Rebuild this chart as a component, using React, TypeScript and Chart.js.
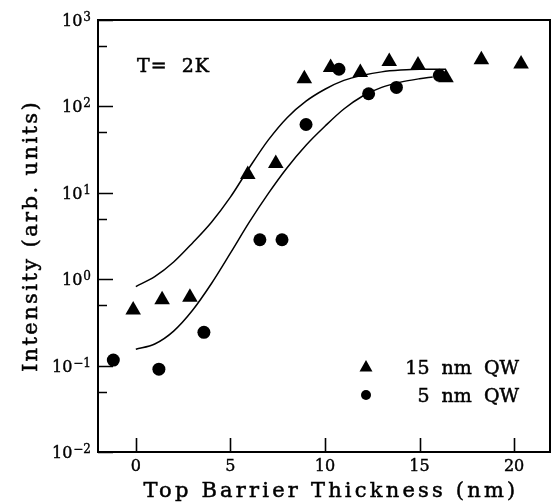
import React, { useEffect, useRef } from "react";
import { Chart, registerables } from "chart.js";

Chart.register(...registerables);

// 15 nm QW (triangles)
const tri15X = [-0.14, 1.39, 2.86, 5.92, 7.4, 8.91, 10.3, 11.87, 13.4, 14.92, 16.4, 18.27, 20.37];
const tri15Y = [0.44, 0.58, 0.62, 16.3, 21.9, 209, 282, 246, 331, 302, 214, 347, 309];

// 5 nm QW (circles)
const circ5X = [-1.19, 1.22, 3.6, 6.56, 7.73, 9.0, 10.74, 12.31, 13.78, 16.05];
const circ5Y = [0.116, 0.091, 0.243, 2.86, 2.86, 61.7, 269, 140, 166, 229];

// fitted curve for 15 nm QW
const fitUpperX = [0, 1, 2, 3, 4, 5, 6, 7, 8, 9, 10, 11, 12, 13, 14, 15, 16.4];
const fitUpperY = [0.822, 1.07, 1.58, 2.63, 4.57, 8.91, 19.5, 40.7, 74.1, 115, 158, 200, 229, 251, 263, 269, 269];

// fitted curve for 5 nm QW
const fitLowerX = [0, 1, 2, 3, 4, 5, 6, 7, 8, 9, 10, 11, 12, 13, 14, 15, 15.7];
const fitLowerY = [0.155, 0.178, 0.251, 0.437, 0.891, 2.0, 4.57, 9.77, 19.5, 35.5, 58.9, 93.3, 132, 166, 191, 209, 219];

const xTicks = [0, 5, 10, 15, 20];
const xTickLabels = ["0", "5", "10", "15", "20"];
const yMajor = [0.01, 0.1, 1, 10, 100, 1000];
const yMinor = [0.05, 0.5, 5, 50, 500];
const yTickExponents = ["\u22122", "\u22121", "0", "1", "2", "3"];

const xTitle = "Top Barrier Thickness (nm)";
const yTitle = "Intensity (arb. units)";
const tempLabel = "T=  2K";
const legendLabels = ["15  nm  QW", "5  nm  QW"];

const FONT = '"DejaVu Serif", serif';

function boldText(ctx: CanvasRenderingContext2D, s: string, x: number, y: number, w = 0.5) {
  ctx.fillText(s, x, y);
  ctx.lineWidth = w;
  ctx.strokeText(s, x, y);
}

export default function App() {
  const ref = useRef<HTMLCanvasElement>(null);

  useEffect(() => {
    const decor = {
      id: "decor",
      afterDraw(chart: any) {
        const ctx = chart.ctx as CanvasRenderingContext2D;
        const { left, right, top, bottom } = chart.chartArea;
        const xs = chart.scales.x;
        const ys = chart.scales.y;
        ctx.save();
        ctx.strokeStyle = "#000";
        ctx.fillStyle = "#000";
        ctx.lineWidth = 2;
        ctx.strokeRect(left, top, right - left, bottom - top);
        ctx.lineWidth = 1.6;
        ctx.beginPath();
        xTicks.forEach((v) => {
          const px = Math.round(xs.getPixelForValue(v)) + 0.5;
          ctx.moveTo(px, bottom);
          ctx.lineTo(px, bottom - 14);
        });
        yMajor.forEach((v) => {
          const py = Math.round(ys.getPixelForValue(v)) + 0.5;
          ctx.moveTo(left, py);
          ctx.lineTo(left + 15, py);
        });
        yMinor.forEach((v) => {
          const py = Math.round(ys.getPixelForValue(v)) + 0.5;
          ctx.moveTo(left, py);
          ctx.lineTo(left + 9, py);
        });
        ctx.stroke();

        // x tick labels
        ctx.font = `16px ${FONT}`;
        ctx.textAlign = "center";
        ctx.textBaseline = "alphabetic";
        xTicks.forEach((v, i) => {
          boldText(ctx, xTickLabels[i], xs.getPixelForValue(v), bottom + 19, 0.4);
        });

        // y tick labels: 10 with superscript exponent
        yMajor.forEach((v, i) => {
          const py = ys.getPixelForValue(v);
          ctx.font = `12px ${FONT}`;
          ctx.textAlign = "right";
          const supW = ctx.measureText(yTickExponents[i]).width;
          boldText(ctx, yTickExponents[i], 91, py + 1, 0.35);
          ctx.font = `16px ${FONT}`;
          boldText(ctx, "10", 91 - supW - 1, py + 6, 0.4);
        });

        // temperature label
        (ctx as any).letterSpacing = "1px";
        ctx.font = `19px ${FONT}`;
        ctx.textAlign = "left";
        boldText(ctx, tempLabel, 137, 72);

        // legend
        (ctx as any).letterSpacing = "0px";
        ctx.font = `19px ${FONT}`;
        ctx.textAlign = "right";
        boldText(ctx, legendLabels[0], 519, 374);
        boldText(ctx, legendLabels[1], 519, 402);
        ctx.beginPath();
        ctx.moveTo(366, 360);
        ctx.lineTo(372.5, 371.5);
        ctx.lineTo(359.5, 371.5);
        ctx.closePath();
        ctx.fill();
        ctx.beginPath();
        ctx.arc(366, 395, 5, 0, Math.PI * 2);
        ctx.fill();

        // axis titles
        (ctx as any).letterSpacing = "3.2px";
        ctx.font = `21px ${FONT}`;
        ctx.textAlign = "center";
        boldText(ctx, xTitle, 331, 497);
        ctx.save();
        ctx.translate(37, 236);
        ctx.rotate(-Math.PI / 2);
        (ctx as any).letterSpacing = "2.4px";
        boldText(ctx, yTitle, 0, 0);
        ctx.restore();
        ctx.restore();
      },
    };

    const chart = new Chart(ref.current as HTMLCanvasElement, {
      type: "scatter",
      data: {
        datasets: [
          {
            label: "15 nm QW",
            data: tri15X.map((x, i) => ({ x, y: tri15Y[i] })),
            pointStyle: "triangle",
            pointRadius: 9,
            backgroundColor: "#000",
            borderColor: "#000",
            borderWidth: 0,
          },
          {
            label: "5 nm QW",
            data: circ5X.map((x, i) => ({ x, y: circ5Y[i] })),
            pointStyle: "circle",
            pointRadius: 6.5,
            backgroundColor: "#000",
            borderColor: "#000",
            borderWidth: 0,
          },
          {
            type: "line",
            label: "fit 15",
            data: fitUpperX.map((x, i) => ({ x, y: fitUpperY[i] })),
            showLine: true,
            pointRadius: 0,
            borderColor: "#000",
            borderWidth: 1.5,
            cubicInterpolationMode: "monotone",
            fill: false,
          },
          {
            type: "line",
            label: "fit 5",
            data: fitLowerX.map((x, i) => ({ x, y: fitLowerY[i] })),
            showLine: true,
            pointRadius: 0,
            borderColor: "#000",
            borderWidth: 1.5,
            cubicInterpolationMode: "monotone",
            fill: false,
          },
        ] as any,
      },
      options: {
        responsive: false,
        animation: false,
        layout: { padding: { top: 20, right: 3, left: 0, bottom: 0 } },
        plugins: { legend: { display: false }, tooltip: { enabled: false } },
        scales: {
          x: {
            type: "linear",
            min: -2,
            max: 21.9,
            afterBuildTicks: (s: any) => {
              s.ticks = xTicks.map((v) => ({ value: v }));
            },
            grid: { display: false },
            border: { display: false },
            ticks: { display: false },
            afterFit: (s: any) => {
              s.height = 50;
            },
          },
          y: {
            type: "logarithmic",
            min: 0.01,
            max: 1000,
            afterBuildTicks: (s: any) => {
              s.ticks = yMajor.map((v) => ({ value: v }));
            },
            grid: { display: false },
            border: { display: false },
            ticks: { display: false },
            afterFit: (s: any) => {
              s.width = 98;
            },
          },
        },
      } as any,
      plugins: [decor],
    });
    return () => chart.destroy();
  }, []);

  return (
    <div style={{ position: "fixed", left: 0, top: 0, width: 559, height: 502, background: "#fff" }}>
      <canvas ref={ref} width={559} height={502} style={{ display: "block" }} />
    </div>
  );
}
